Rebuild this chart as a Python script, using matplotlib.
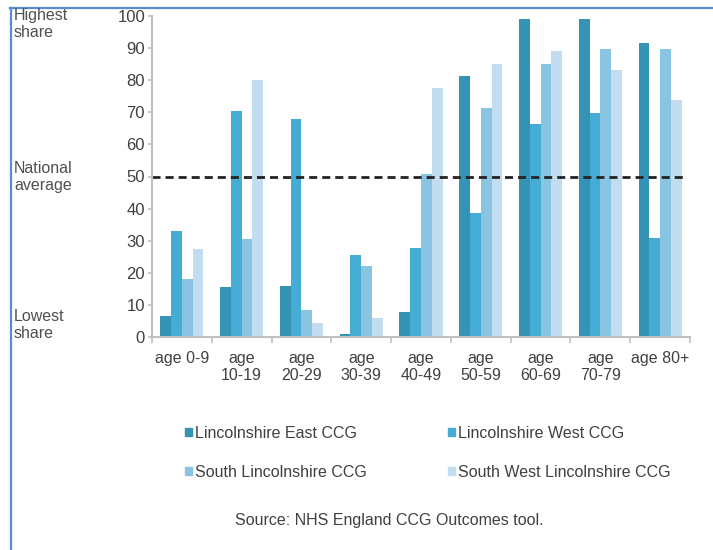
import numpy as np
import matplotlib
matplotlib.use("Agg")
import matplotlib.pyplot as plt
from matplotlib.patches import Patch
from matplotlib.lines import Line2D

plt.rcParams["font.family"] = ["Liberation Sans", "DejaVu Sans"]

# data
age_groups = ["age 0-9", "age\n10-19", "age\n20-29", "age\n30-39", "age\n40-49",
              "age\n50-59", "age\n60-69", "age\n70-79", "age 80+"]
ccg_names = ["Lincolnshire East CCG", "Lincolnshire West CCG",
             "South Lincolnshire CCG", "South West Lincolnshire CCG"]
east = [6.5, 15.5, 16, 1, 7.9, 81.3, 99, 99, 91.6]
west = [33, 70.5, 68, 25.6, 27.7, 38.7, 66.5, 69.9, 30.7]
south = [18, 30.5, 8.5, 22, 50.8, 71.2, 85.2, 89.7, 89.7]
south_west = [27.5, 80, 4.5, 6, 77.5, 85.2, 89, 83.2, 73.7]
national_average = 50

colors = ["#3593b6", "#45add4", "#89c5e3", "#c3ddf0"]
text_col = "#404040"

fig = plt.figure(figsize=(7.13, 5.5), dpi=100)
ax = fig.add_axes([152/713, 1-337/550, (690-152)/713, (337-16)/550])

x = np.arange(len(age_groups))
w = 0.18
series = [east, west, south, south_west]
for i, vals in enumerate(series):
    ax.bar(x + (i - 1.5)*w, vals, width=w, color=colors[i], linewidth=0)

ax.axhline(national_average, xmin=0, xmax=0.987, color="#222222", lw=2,
           dashes=(2.9, 1.8))

ax.set_xlim(-0.5, len(age_groups) - 0.5)
ax.set_ylim(0, 100)
ax.set_yticks(range(0, 101, 10))
ax.set_xticks(x)
ax.set_xticklabels(age_groups)
ax.set_xticks(np.arange(-0.5, len(age_groups), 1), minor=True)

for s in ["top", "right"]:
    ax.spines[s].set_visible(False)
for s in ["left", "bottom"]:
    ax.spines[s].set_color("#c0c0c0")
    ax.spines[s].set_linewidth(1.5)

ax.tick_params(axis="y", length=3, color="#c0c0c0", width=1.2, pad=2,
               labelsize=12, labelcolor=text_col)
ax.tick_params(axis="x", which="major", length=0, pad=10, labelsize=11.5,
               labelcolor=text_col)
ax.tick_params(axis="x", which="minor", length=4, color="#c0c0c0", width=1.2)

# side notes
for ypix, note in [(24, "Highest\nshare"), (177, "National\naverage"),
                   (325, "Lowest\nshare")]:
    fig.text(14/713, 1-ypix/550, note, ha="left", va="center",
             fontsize=11.5, color="#505050", linespacing=1.15)

# legend, row by row: East, West / South, South West
handles = [Patch(color=c) for c in colors]
order = [0, 2, 1, 3]
fig.legend([handles[i] for i in order], [ccg_names[i] for i in order],
           ncol=2, loc="upper left", bbox_to_anchor=(185/713, 1-426/550),
           frameon=False, fontsize=11.5, labelcolor=text_col,
           handlelength=0.42, handleheight=0.42, handletextpad=0.2,
           columnspacing=5.1, labelspacing=1.5, borderpad=0, borderaxespad=0)

fig.text(389/713, 1-520/550, "Source: NHS England CCG Outcomes tool.",
         ha="center", va="center", fontsize=11.5, color=text_col)

# blue frame on left and top
frame_col = "#5a8ad6"
fig.add_artist(Line2D([10.5/713, 10.5/713], [0, 1-8/550], color=frame_col,
                      lw=1.6, transform=fig.transFigure))
fig.add_artist(Line2D([10/713, 1], [1-8/550, 1-8/550], color=frame_col,
                      lw=1.6, transform=fig.transFigure))

fig.savefig("out.png", dpi=100)
